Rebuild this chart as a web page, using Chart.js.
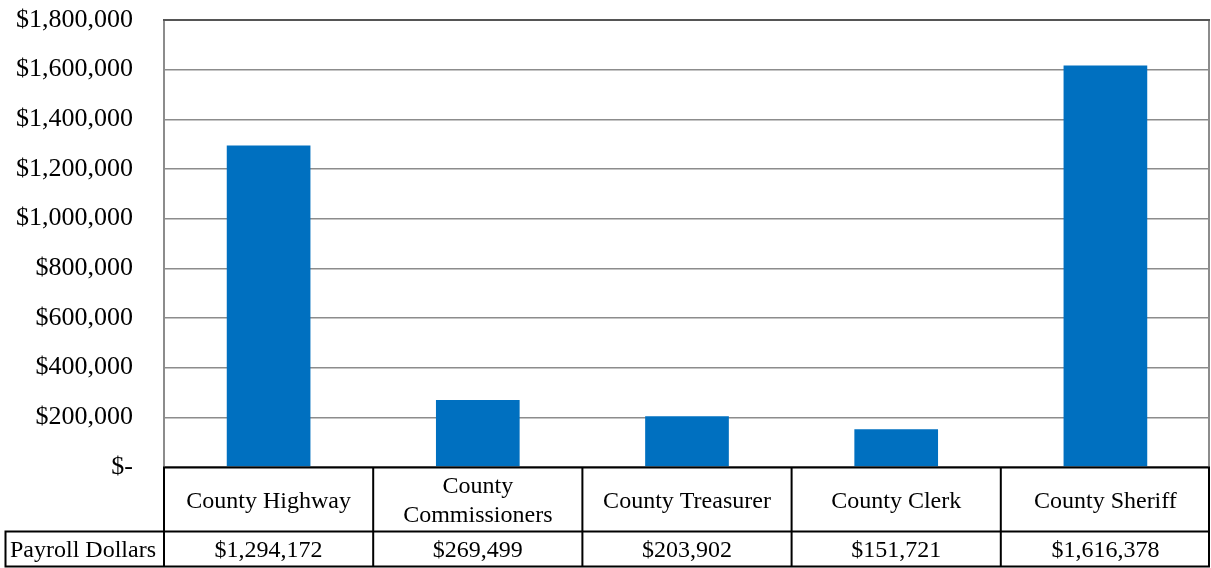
<!DOCTYPE html>
<html>
<head>
<meta charset="utf-8">
<script src="https://cdn.jsdelivr.net/npm/chart.js@4"></script>
<style>
html,body{margin:0;padding:0;background:#fff;}
#wrap{width:1211px;height:568px;position:relative;}
</style>
</head>
<body>
<div id="wrap"><canvas id="c"></canvas></div>
<script>
const categories = [["County Highway"], ["County", "Commissioners"], ["County Treasurer"], ["County Clerk"], ["County Sheriff"]];
const seriesName = "Payroll Dollars";
const payroll = [1294172, 269499, 203902, 151721, 1616378];
const yMin = 0, yMax = 1800000, yStep = 200000;

const FONT = "'Liberation Serif', 'Times New Roman', serif";
function money(v) { return v === 0 ? "$-" : "$" + v.toLocaleString("en-US"); }

const tablePlugin = {
  id: 'dataTable',
  afterDraw(chart) {
    const ctx = chart.ctx, a = chart.chartArea, xs = chart.scales.x;
    const n = categories.length;
    const half = (xs.getPixelForValue(1) - xs.getPixelForValue(0)) / 2;
    const top = a.bottom + 0.5, mid = 531.5, bot = 566.5, leftCell = 5.5;
    ctx.save();
    ctx.strokeStyle = '#8c8c8c';
    ctx.lineWidth = 2;
    ctx.beginPath();
    ctx.moveTo(a.right - 1, a.top); ctx.lineTo(a.right - 1, a.bottom);
    ctx.stroke();
    ctx.strokeStyle = '#555';
    ctx.beginPath();
    ctx.moveTo(a.left - 1, a.top); ctx.lineTo(a.right, a.top);
    ctx.stroke();
    ctx.strokeStyle = '#000';
    ctx.lineWidth = 2;
    ctx.beginPath();
    ctx.moveTo(a.left - 1, top); ctx.lineTo(a.right, top);
    ctx.moveTo(leftCell - 1, mid); ctx.lineTo(a.right, mid);
    ctx.moveTo(leftCell - 1, bot); ctx.lineTo(a.right, bot);
    ctx.moveTo(leftCell, mid); ctx.lineTo(leftCell, bot);
    for (let i = 0; i <= n; i++) {
      let x = i < n ? xs.getPixelForValue(i) - half : a.right - 1;
      ctx.moveTo(x, top); ctx.lineTo(x, bot);
    }
    ctx.stroke();
    ctx.fillStyle = '#000';
    ctx.font = "24px " + FONT;
    ctx.textAlign = 'center';
    ctx.textBaseline = 'middle';
    for (let i = 0; i < n; i++) {
      ctx.fillText(money(payroll[i]), xs.getPixelForValue(i), (mid + bot) / 2 + 2);
    }
    ctx.textAlign = 'left';
    ctx.fillText(seriesName, 10, (mid + bot) / 2 + 2);
    ctx.restore();
  }
};

new Chart(document.getElementById('c'), {
  type: 'bar',
  data: {
    labels: categories,
    datasets: [{
      label: seriesName,
      data: payroll,
      backgroundColor: '#0070C0',
      borderWidth: 0,
      barPercentage: 0.4,
      categoryPercentage: 1.0
    }]
  },
  options: {
    responsive: true,
    maintainAspectRatio: false,
    animation: false,
    layout: { padding: { top: 20, right: 1, left: 0, bottom: 0 } },
    plugins: { legend: { display: false }, tooltip: { enabled: false } },
    scales: {
      x: {
        grid: { display: false, drawTicks: false },
        border: { display: false },
        ticks: {
          color: '#000',
          font: { family: FONT, size: 24 },
          padding: 20,
          maxRotation: 0,
          autoSkip: false,
          crossAlign: 'center'
        },
        afterFit(s) { s.height = 101; s.paddingLeft = 0; s.paddingRight = 0; }
      },
      y: {
        min: yMin, max: yMax,
        grid: { color: '#8c8c8c', lineWidth: 1.5, drawTicks: false },
        border: { display: true, color: '#8c8c8c', width: 2 },
        ticks: {
          stepSize: yStep,
          color: '#000',
          font: { family: FONT, size: 26 },
          padding: 31,
          callback: (v) => money(v)
        },
        afterFit(s) { s.width = 164; s.paddingTop = 0; s.paddingBottom = 0; }
      }
    }
  },
  plugins: [tablePlugin]
});
</script>
</body>
</html>
